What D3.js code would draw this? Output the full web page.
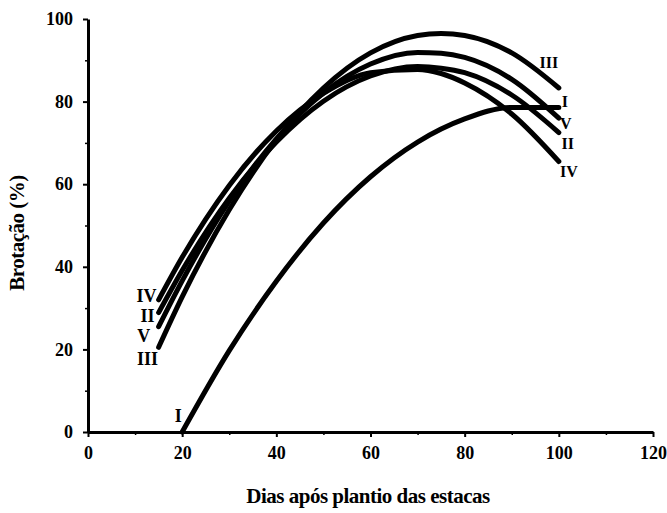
<!DOCTYPE html>
<meta charset="utf-8">
<script src="https://d3js.org/d3.v7.min.js"></script>
<style>
  body { margin: 0; background: #fff; }
  text { font-family: "Liberation Serif", "Times New Roman", serif; fill: #000; }
</style>
<body>
<div id="graph"></div>
<script>
  var daysI = [20, 30, 40, 50, 60, 70, 80, 90, 100];
  var serieI = [0, 19.7, 36.5, 50.6, 61.8, 70.2, 75.8, 78.6, 78.6];

  var days = [15, 20, 30, 40, 50, 60, 70, 75, 80, 90, 100];
  var serieII  = [28.9, 39.1, 56.6, 70.2, 80.1, 86.2, 88.5, 88.1, 87.0, 81.6, 72.5];
  var serieIII = [20.5, 32.7, 53.8, 70.7, 83.3, 91.8, 96.0, 96.5, 96.0, 91.8, 83.3];
  var serieIV  = [32.0, 42.3, 59.7, 72.9, 82.0, 87.0, 87.8, 86.8, 84.5, 77.0, 65.5];
  var serieV   = [25.5, 36.6, 55.9, 71.0, 82.1, 89.1, 91.9, 91.7, 90.7, 85.4, 76.0];

  var xTicks = [0, 20, 40, 60, 80, 100, 120];
  var yTicks = [0, 20, 40, 60, 80, 100];

  var series = [
    { name: "I",   x: daysI, y: serieI },
    { name: "II",  x: days,  y: serieII },
    { name: "III", x: days,  y: serieIII },
    { name: "IV",  x: days,  y: serieIV },
    { name: "V",   x: days,  y: serieV }
  ];

  var width = 667, height = 513;
  var svg = d3.select("#graph").append("svg")
    .attr("width", width)
    .attr("height", height);

  var x = d3.scaleLinear().domain([0, 120]).range([88, 653]);
  var y = d3.scaleLinear().domain([0, 100]).range([432, 19]);

  // minor ticks
  svg.append("g")
    .attr("transform", "translate(0,432)")
    .call(d3.axisBottom(x).tickValues(d3.range(10, 120, 20)).tickSize(3).tickFormat(""))
    .call(function (g) { g.select(".domain").remove(); g.selectAll("line").attr("stroke-width", 1.5); });
  svg.append("g")
    .attr("transform", "translate(88,0)")
    .call(d3.axisLeft(y).tickValues(d3.range(10, 100, 20)).tickSize(3).tickFormat(""))
    .call(function (g) { g.select(".domain").remove(); g.selectAll("line").attr("stroke-width", 1.5); });

  // X axis
  var gx = svg.append("g")
    .attr("transform", "translate(0,432)")
    .call(d3.axisBottom(x).tickValues(xTicks).tickSize(5).tickSizeOuter(0).tickPadding(9));
  gx.select(".domain").attr("stroke-width", 3);
  gx.selectAll("line").attr("stroke-width", 2);
  gx.selectAll("text").style("font-size", "18px").style("font-weight", "bold");

  // Y axis
  var gy = svg.append("g")
    .attr("transform", "translate(88,0)")
    .call(d3.axisLeft(y).tickValues(yTicks).tickSize(5).tickSizeOuter(0).tickPadding(10));
  gy.select(".domain").attr("stroke-width", 3);
  gy.selectAll("line").attr("stroke-width", 2);
  gy.selectAll("text").style("font-size", "18px").style("font-weight", "bold");

  // curves
  var line = d3.line()
    .x(function (d) { return x(d[0]); })
    .y(function (d) { return y(d[1]); })
    .curve(d3.curveMonotoneX);

  svg.selectAll(".curve")
    .data(series)
    .enter()
    .append("path")
    .attr("class", "curve")
    .attr("d", function (s) { return line(d3.zip(s.x, s.y)); })
    .attr("fill", "none")
    .attr("stroke", "#000")
    .attr("stroke-width", 5)
    .attr("stroke-linecap", "round");

  // curve labels, anchored at the ends of the curves
  var startLabels = [
    { t: "IV",  s: serieIV,  dx: -12, dy: -2 },
    { t: "II",  s: serieII,  dx: -11, dy: 5 },
    { t: "V",   s: serieV,   dx: -15, dy: 11 },
    { t: "III", s: serieIII, dx: -11, dy: 14 }
  ];
  svg.selectAll(".lblStart")
    .data(startLabels)
    .enter()
    .append("text")
    .attr("x", function (d) { return x(days[0]) + d.dx; })
    .attr("y", function (d) { return y(d.s[0]) + d.dy; })
    .attr("text-anchor", "middle")
    .attr("dominant-baseline", "middle")
    .style("font-size", "18px")
    .style("font-weight", "bold")
    .text(function (d) { return d.t; });

  svg.append("text")
    .attr("x", x(daysI[0]) - 4)
    .attr("y", y(serieI[0]) - 14)
    .attr("text-anchor", "middle")
    .attr("dominant-baseline", "middle")
    .style("font-size", "18px")
    .style("font-weight", "bold")
    .text("I");

  var endLabels = [
    { t: "III", v: serieIII[serieIII.length - 1], dx: -10, dy: -24 },
    { t: "I",   v: serieI[serieI.length - 1],     dx: 6,   dy: -4 },
    { t: "V",   v: serieV[serieV.length - 1],     dx: 7,   dy: 7 },
    { t: "II",  v: serieII[serieII.length - 1],   dx: 9,   dy: 13 },
    { t: "IV",  v: serieIV[serieIV.length - 1],   dx: 10,  dy: 12 }
  ];
  svg.selectAll(".lblEnd")
    .data(endLabels)
    .enter()
    .append("text")
    .attr("x", function (d) { return x(100) + d.dx; })
    .attr("y", function (d) { return y(d.v) + d.dy; })
    .attr("text-anchor", "middle")
    .attr("dominant-baseline", "middle")
    .style("font-size", "16px")
    .style("font-weight", "bold")
    .text(function (d) { return d.t; });

  // axis titles
  svg.append("text")
    .attr("x", 368)
    .attr("y", 503)
    .attr("text-anchor", "middle")
    .style("font-size", "21px")
    .style("font-weight", "bold")
    .style("letter-spacing", "-0.5px")
    .text("Dias após plantio das estacas");

  svg.append("text")
    .attr("transform", "translate(24,233) rotate(-90)")
    .attr("text-anchor", "middle")
    .style("font-size", "21px")
    .style("font-weight", "bold")
    .style("letter-spacing", "-0.5px")
    .text("Brotação (%)");
</script>
</body>
